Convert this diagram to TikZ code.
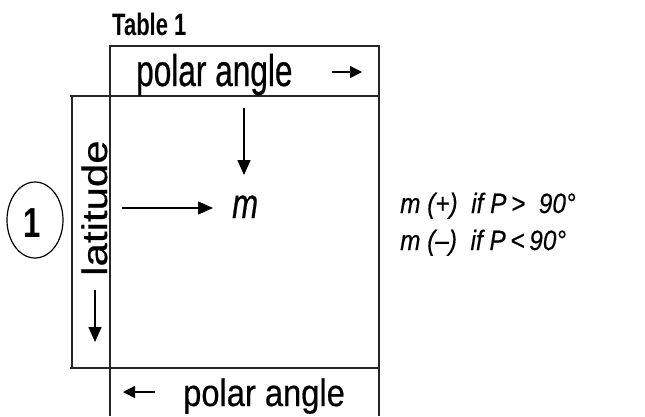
\documentclass[tikz,border=0pt]{standalone}
\usepackage{fontspec}
\setmainfont{Liberation Sans}
\newfontfamily\topf[FakeStretch=0.71,FakeBold=0.5]{Liberation Sans}
\newfontfamily\titlef[FakeStretch=0.71]{Liberation Sans}
\newfontfamily\botf[FakeStretch=0.86,FakeBold=0.5]{Liberation Sans}
\newfontfamily\notef[FakeStretch=0.87,FakeBold=0.4]{Liberation Sans}
\newfontfamily\mf[FakeStretch=0.74,FakeBold=0.5]{Liberation Sans}
\newfontfamily\onef[FakeStretch=0.74]{Liberation Sans}
\newfontfamily\plainf[FakeBold=0.5]{Liberation Sans}
\usetikzlibrary{arrows.meta,shapes.geometric}
\begin{document}
\begin{tikzpicture}[x=1pt,y=-1pt,
  frame/.style={line width=1.4pt, draw=black!85},
  bigarrow/.style={line width=1.4pt, -{Triangle[length=15pt,width=13pt]}},
  smallarrow/.style={line width=1.4pt, -{Triangle[length=12pt,width=12pt]}},
  txt/.style={inner sep=0pt, anchor=base west}
]
\useasboundingbox (0,0) rectangle (645,416);
% frame
\coordinate (tl) at (110,46);
\coordinate (tr) at (379,46);
\draw[frame] (110,416) -- (tl) -- (tr) -- (379,416);
\draw[frame] (70,96) -- (379,96);
\draw[frame] (70,368) -- (379,368);
\draw[frame] (72,96) -- (72,368);
% title
\node[txt, font=\titlef\bfseries\fontsize{31}{34}\selectfont] (title) at (112,35) {Table 1};
% top label
\node[txt, font=\topf\fontsize{44.5}{48}\selectfont] (toplbl) at (136,86) {polar angle};
\coordinate (ta1) at (332,72); \coordinate (ta2) at (362,72);
\draw[smallarrow] (ta1) -- (ta2);
% bottom label
\node[txt, font=\botf\fontsize{38}{42}\selectfont] (botlbl) at (183,406) {polar angle};
\coordinate (ba1) at (155,392); \coordinate (ba2) at (123,392);
\draw[smallarrow] (ba1) -- (ba2);
% latitude
\node[inner sep=0pt, anchor=base west, rotate=90, font=\plainf\fontsize{42}{46}\selectfont] (lat) at (107,276) {\scalebox{1}[0.84]{latitude}};
\coordinate (la1) at (95,290); \coordinate (la2) at (95,342);
\draw[bigarrow] (la1) -- (la2);
% circle 1
\node[draw, line width=1.2pt, ellipse, minimum width=56pt, minimum height=76pt, inner sep=0pt] (one) at (35,220) {};
\node[inner sep=0pt, anchor=base, font=\onef\bfseries\fontsize{42}{46}\selectfont] (onetxt) at (32,237) {1};
% m
\node[txt, font=\mf\itshape\fontsize{42}{46}\selectfont] (m) at (232,218) {m};
\coordinate (da1) at (244,108); \coordinate (da2) at (244,175);
\draw[bigarrow] (da1) -- (da2);
\coordinate (ha1) at (122,208); \coordinate (ha2) at (213,208);
\draw[bigarrow] (ha1) -- (ha2);
% right notes
\node[txt, font=\notef\itshape\fontsize{28}{34}\selectfont] (n1) at (400,213) {m (+) \ if P\,>\ \ 90°};
\node[txt, font=\notef\itshape\fontsize{28}{34}\selectfont] (n2) at (400,250) {m (–) \ if P\,<\,90°};
\end{tikzpicture}
\end{document}
